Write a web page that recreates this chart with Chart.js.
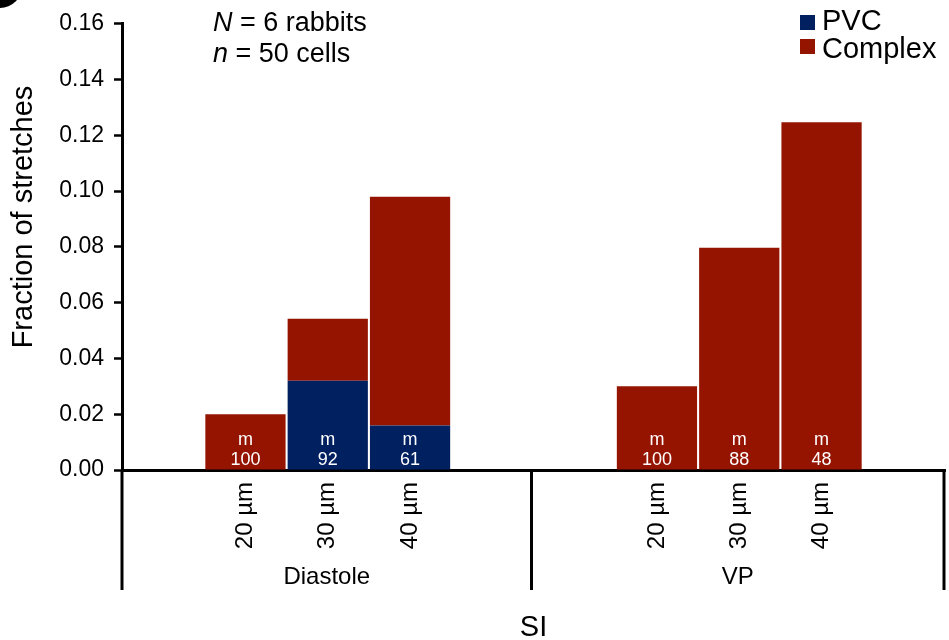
<!DOCTYPE html>
<html>
<head>
<meta charset="utf-8">
<script src="https://cdn.jsdelivr.net/npm/chart.js@4/dist/chart.umd.min.js"></script>
<style>
  html, body { margin: 0; padding: 0; background: #ffffff; }
  #wrap { width: 949px; height: 640px; }
</style>
</head>
<body>
<div id="wrap"><canvas id="c" width="949" height="640"></canvas></div>
<script>
// ---- data ----
const categories = ['', '20 µm', '30 µm', '40 µm', '', '', '20 µm', '30 µm', '40 µm', ''];
const groups = ['Diastole', 'VP'];
const pvcValues = [null, 0, 0.032, 0.016, null, null, 0, 0, 0, null];
const complexValues = [null, 0.020, 0.0222, 0.082, null, null, 0.030, 0.0797, 0.1247, null];
const mLabels = ['', '100', '92', '61', '', '', '100', '88', '48', ''];
const yTicks = [0, 0.02, 0.04, 0.06, 0.08, 0.10, 0.12, 0.14, 0.16];

const PVC_COLOR = '#002060';
const COMPLEX_COLOR = '#951400';
const FONT = '"Liberation Sans", Arial, Helvetica, sans-serif';

const overlay = {
  id: 'overlay',
  afterDraw(chart) {
    const ctx = chart.ctx;
    const x = chart.scales.x, y = chart.scales.y;
    const area = chart.chartArea;
    const base = y.getPixelForValue(0);
    const bottom = base + 120;
    ctx.save();
    // group separators
    ctx.strokeStyle = '#000';
    ctx.lineWidth = 3;
    const n = categories.length;
    const half = n / 2;
    const xs = [area.left, (x.getPixelForValue(half - 1) + x.getPixelForValue(half)) / 2 - 2, area.right - 1];
    xs.forEach(px => {
      ctx.beginPath();
      ctx.moveTo(px, base);
      ctx.lineTo(px, bottom);
      ctx.stroke();
    });
    // group labels
    ctx.fillStyle = '#000';
    ctx.font = '24px ' + FONT;
    ctx.textAlign = 'center';
    ctx.textBaseline = 'middle';
    ctx.fillText(groups[0], (xs[0] + xs[1]) / 2, base + 107);
    ctx.fillText(groups[1], (xs[1] + xs[2]) / 2, base + 107);
    // SI
    ctx.font = '29px ' + FONT;
    ctx.fillText('SI', (area.left + area.right) / 2, base + 158);
    // y title
    ctx.save();
    ctx.translate(24, 217);
    ctx.rotate(-Math.PI / 2);
    ctx.font = '29px ' + FONT;
    ctx.fillText('Fraction of stretches', 0, 0);
    ctx.restore();
    // labels inside bars
    ctx.fillStyle = '#fff';
    ctx.font = '18px ' + FONT;
    ctx.textBaseline = 'alphabetic';
    mLabels.forEach((lab, i) => {
      if (!lab) return;
      const px = x.getPixelForValue(i);
      ctx.fillText('m', px, base - 25);
      ctx.fillText(lab, px, base - 5);
    });
    // annotation
    ctx.fillStyle = '#000';
    ctx.textAlign = 'left';
    const drawMixed = (parts, px, py) => {
      let cx = px;
      parts.forEach(([t, it]) => {
        ctx.font = (it ? 'italic ' : '') + '27px ' + FONT;
        ctx.fillText(t, cx, py);
        cx += ctx.measureText(t).width;
      });
    };
    drawMixed([['N', true], [' = 6 rabbits', false]], 213, 31);
    drawMixed([['n', true], [' = 50 cells', false]], 213, 62);
    // legend
    const legend = [['PVC', PVC_COLOR, 15, 30], ['Complex', COMPLEX_COLOR, 39, 58]];
    ctx.font = '29px ' + FONT;
    legend.forEach(([t, c, sy, by]) => {
      ctx.fillStyle = c;
      ctx.fillRect(800, sy, 15, 15);
      ctx.fillStyle = '#000';
      ctx.fillText(t, 822, by);
    });
    // panel letter remnant
    ctx.fillStyle = '#000';
    ctx.beginPath();
    ctx.arc(0, -14, 22, 0, Math.PI * 2);
    ctx.fill();
    ctx.restore();
  }
};

new Chart(document.getElementById('c'), {
  type: 'bar',
  data: {
    labels: categories,
    datasets: [
      { label: 'PVC', data: pvcValues, backgroundColor: PVC_COLOR, borderWidth: 0 },
      { label: 'Complex', data: complexValues, backgroundColor: COMPLEX_COLOR, borderWidth: 0 }
    ]
  },
  options: {
    responsive: false,
    animation: false,
    layout: { padding: { top: 21, right: 4, left: 0, bottom: 0 } },
    plugins: { legend: { display: false }, tooltip: { enabled: false } },
    datasets: { bar: { barPercentage: 0.975, categoryPercentage: 1.0 } },
    scales: {
      x: {
        stacked: true,
        grid: { display: false, drawTicks: false },
        border: { display: true, color: '#000', width: 3 },
        ticks: {
          autoSkip: false, minRotation: 90, maxRotation: 90,
          color: '#000', padding: 12,
          font: { family: FONT, size: 24 }
        },
        afterFit(s) { s.height = 170; }
      },
      y: {
        stacked: true,
        min: 0, max: 0.16,
        afterBuildTicks(s) { s.ticks = yTicks.map(v => ({ value: v })); },
        grid: { display: true, drawOnChartArea: false, drawTicks: true, tickLength: 8, tickWidth: 2.5, tickColor: '#000' },
        border: { display: true, color: '#000', width: 3 },
        ticks: {
          color: '#000', padding: 10,
          font: { family: FONT, size: 23 },
          callback: v => v.toFixed(2)
        },
        afterFit(s) { s.width = 122; }
      }
    }
  },
  plugins: [overlay]
});
</script>
</body>
</html>
